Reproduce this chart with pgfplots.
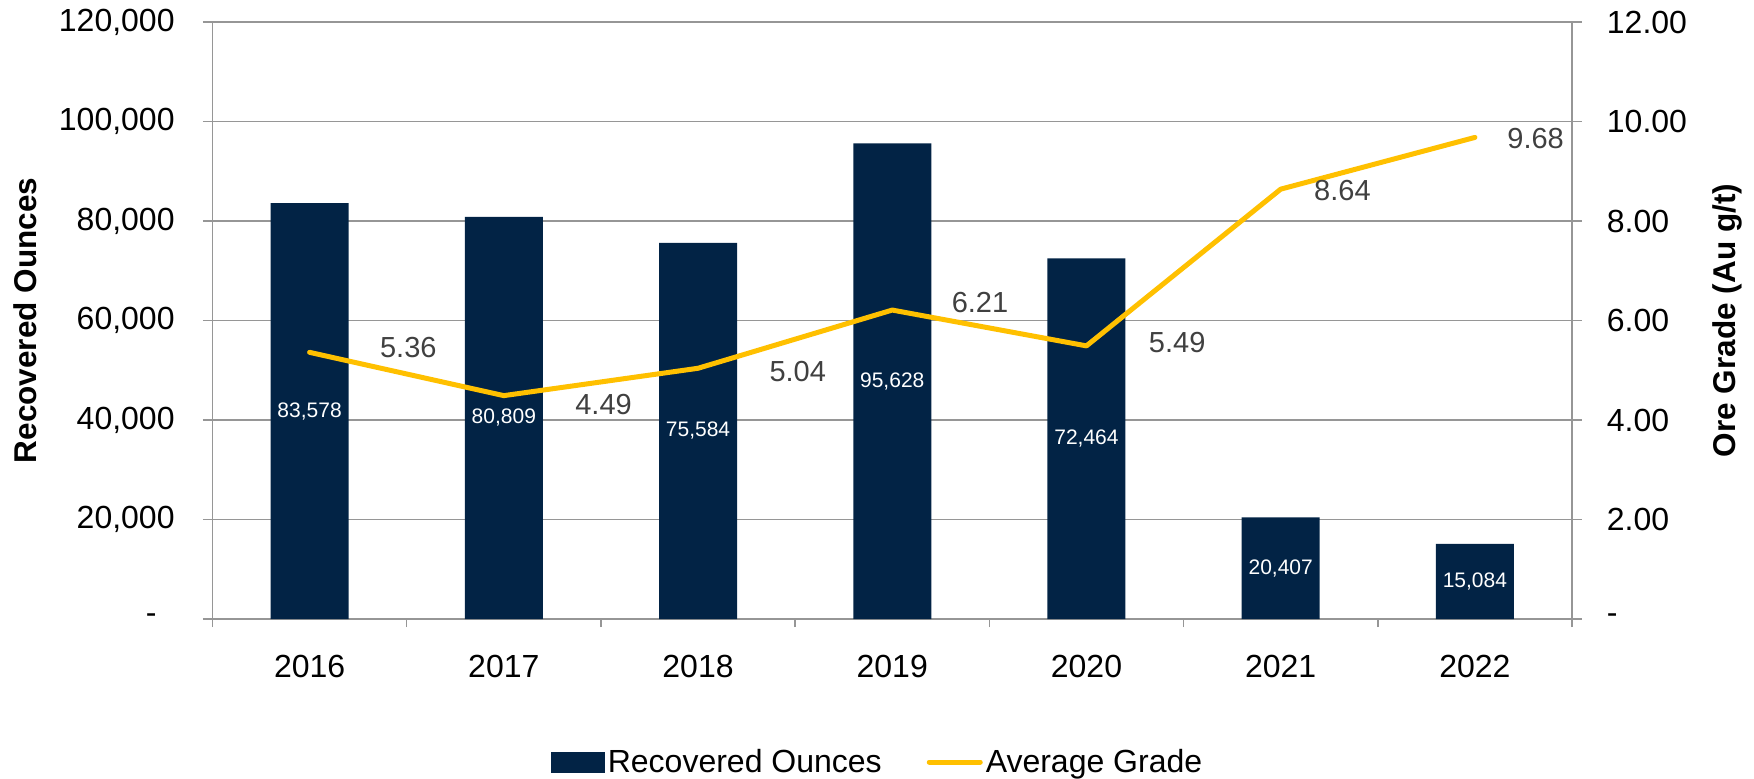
\documentclass[border=0pt]{standalone}
\usepackage{fontspec}
\setmainfont{Liberation Sans}
\usepackage{pgfplots}
\pgfplotsset{compat=1.18}
\usepackage{pgfplotstable}
\definecolor{navy}{HTML}{022345}
\definecolor{gold}{HTML}{FFC000}
\definecolor{axgray}{HTML}{969696}
\definecolor{lblgray}{HTML}{404040}

\pgfplotstableread{
x y yk lab
0 83578 83.578 83,578
1 80809 80.809 80,809
2 75584 75.584 75,584
3 95628 95.628 95,628
4 72464 72.464 72,464
5 20407 20.407 20,407
6 15084 15.084 15,084
}\bars

\pgfplotstableread{
x y lab dx dy
0 5.36 5.36 34 2.5
1 4.49 4.49 34.5 -4.5
2 5.04 5.04 34.5 -1.5
3 6.21 6.21 28.5 4
4 5.49 5.49 30 1.5
5 8.64 8.64 15.5 -0.5
6 9.68 9.68 15 -0.5
}\grade

\begin{document}
\begin{tikzpicture}
\useasboundingbox (-106.25pt,-79.5pt) rectangle (770.75pt,309.5pt);
\begin{axis}[
  width=679.75pt, height=298.5pt, scale only axis,
  xmin=-0.5, xmax=6.5, ymin=0, ymax=120000,
  scaled y ticks=false,
  ybar, bar width=39pt,
  xtick={0,1,2,3,4,5,6},
  xticklabels={2016,2017,2018,2019,2020,2021,2022},
  minor xtick={-0.5,0.5,1.5,2.5,3.5,4.5,5.5,6.5},
  major x tick style={draw=none},
  ytick={0,20000,40000,60000,80000,100000,120000},
  yticklabels={{-\hspace*{9pt}},{20,000},{40,000},{60,000},{80,000},{100,000},{120,000}},
  ytick pos=left, xtick pos=bottom,
  tick align=outside,
  major tick length=4.75pt, minor tick length=4pt,
  axis line style={axgray, line width=0.7pt},
  every tick/.style={axgray, line width=0.7pt},
  ymajorgrids, grid style={axgray, line width=0.7pt},
  tick label style={font=\fontsize{16}{19}\selectfont, text=black},
  yticklabel style={inner sep=0pt, xshift=-14pt},
  xticklabel style={inner sep=0pt, yshift=-13.25pt},
  ylabel={Recovered Ounces},
  every axis y label/.style={at={(axis description cs:-0.1379,0.5)}, anchor=center, rotate=90, font=\fontsize{15.75}{18}\selectfont\bfseries},
]
\addplot[fill=navy, draw=none, nodes near coords, point meta=explicit symbolic,
  visualization depends on={\thisrow{yk} \as \kval},
  every node near coord/.style={anchor=center, yshift={-1.24375*\kval}, font=\fontsize{10.5}{12}\selectfont, text=white}]
  table[x=x, y=y, meta=lab]{\bars};
\end{axis}
\begin{axis}[
  width=679.75pt, height=298.5pt, scale only axis,
  xmin=-0.5, xmax=6.5, ymin=0, ymax=12,
  axis x line=none, axis y line*=right,
  ytick={0,2,4,6,8,10,12},
  yticklabels={-,2.00,4.00,6.00,8.00,10.00,12.00},
  tick align=outside,
  major tick length=4.75pt,
  axis line style={axgray, line width=0.7pt},
  every tick/.style={axgray, line width=0.7pt},
  tick label style={font=\fontsize{16}{19}\selectfont, text=black},
  yticklabel style={inner sep=0pt, xshift=12.5pt},
  ylabel={Ore Grade (Au g/t)},
  every axis y label/.style={at={(axis description cs:1.114,0.5)}, anchor=center, rotate=90, font=\fontsize{15.75}{18}\selectfont\bfseries},
  legend columns=2,
  legend style={at={(axis description cs:0.4896,0)}, anchor=center, yshift=-71.5pt, draw=none, fill=none,
    font=\fontsize{16}{19}\selectfont, inner sep=0pt,
    nodes={inner sep=1.5pt},
    column sep=0pt,
    /tikz/every even column/.append style={column sep=21pt}},
  legend cell align=left,
]
\addlegendimage{legend image code/.code={\fill[navy] (0pt,-5pt) rectangle (26.5pt,5pt);}}
\addlegendentry{Recovered Ounces}
\addplot[gold, line width=2.5pt, line join=round, line cap=round, mark=none,
  nodes near coords, point meta=explicit symbolic,
  visualization depends on={\thisrow{dx} \as \dx},
  visualization depends on={\thisrow{dy} \as \dy},
  every node near coord/.style={anchor=west, inner sep=0pt, xshift={\dx}, yshift={\dy}, font=\fontsize{14.5}{17}\selectfont, text=lblgray},
  legend image code/.code={\draw[gold, line width=2.5pt, line cap=round] (1.25pt,0pt) -- (26.75pt,0pt);}]
  table[x=x, y=y, meta=lab]{\grade};
\addlegendentry{Average Grade}
\end{axis}
\end{tikzpicture}
\end{document}
